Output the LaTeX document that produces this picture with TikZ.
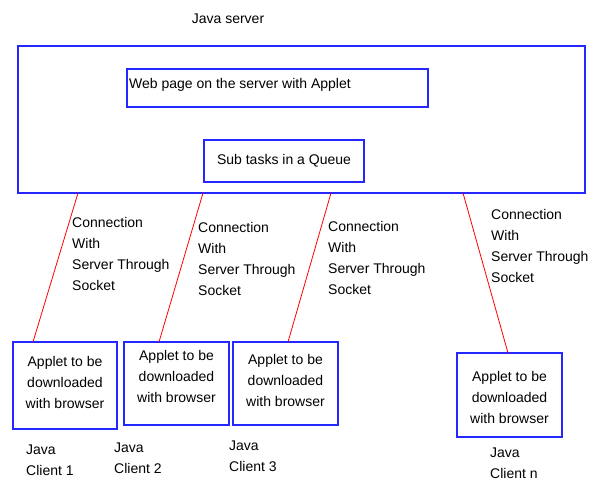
\documentclass[tikz,border=0pt]{standalone}
\usepackage{fontspec}
\setmainfont{Liberation Sans}
\colorlet{bxb}{blue!85!white}
\colorlet{lnr}{red}
\tikzset{
    box/.style={draw=bxb,line width=1.3pt,inner sep=0pt},
    sock/.style={lnr,line width=0.8pt},
    txt/.style={inner sep=0pt,align=left,font=\fontsize{14}{21}\selectfont},
    ctxt/.style={txt,align=center}
}
\begin{document}
\begin{tikzpicture}[x=1pt,y=-1pt]
            \useasboundingbox (0,0) rectangle (596,482);
            \node [txt] (jsrv) at (228,19) {Java server};
            \node [box,minimum width=567,minimum height=147] (server) at (301.5,119.5) {};
            \node [box,minimum width=301,minimum height=38] (web) at (277.5,88) {};
            \node [txt,anchor=west] (webt) at (129,85) {Web page on the server with Applet};
            \node [box,ctxt,minimum width=160,minimum height=42] (queue) at (284,161) {Sub tasks in a Queue};
            % client boxes
            \node [box,minimum width=104,minimum height=87] (c1) at (65,385.5) {};
            \node [box,minimum width=105,minimum height=83] (c2) at (176.5,383.5) {};
            \node [box,minimum width=105,minimum height=83] (c3) at (285.5,383.5) {};
            \node [box,minimum width=105,minimum height=84] (cn) at (509.5,395) {};
            \node [ctxt] (a1) at (65,382) {Applet to be\\downloaded\\with browser};
            \node [ctxt] (a2) at (176.5,376) {Applet to be\\downloaded\\with browser};
            \node [ctxt] (a3) at (285.5,380) {Applet to be\\downloaded\\with browser};
            \node [ctxt] (an) at (509.5,397) {Applet to be\\downloaded\\with browser};
            % socket lines
            \coordinate (s1) at (78,193);
            \coordinate (s2) at (203,193);
            \coordinate (s3) at (331,193);
            \coordinate (sn) at (463,193);
            \coordinate (e1) at (33,342);
            \coordinate (e2) at (159,342);
            \coordinate (e3) at (288,342);
            \coordinate (en) at (508,353);
            \draw [sock] (s1) -- (e1);
            \draw [sock] (s2) -- (e2);
            \draw [sock] (s3) -- (e3);
            \draw [sock] (sn) -- (en);
            \node [txt,anchor=west] (k1) at (72,253.5) {Connection\\With\\Server Through\\Socket};
            \node [txt,anchor=west] (k2) at (198,259) {Connection\\With\\Server Through\\Socket};
            \node [txt,anchor=west] (k3) at (328,258) {Connection\\With\\Server Through\\Socket};
            \node [txt,anchor=west] (kn) at (491,245.5) {Connection\\With\\Server Through\\Socket};
            % client names
            \node [txt,anchor=west] (j1) at (26,460) {Java\\Client 1};
            \node [txt,anchor=west] (j2) at (114,458) {Java\\Client 2};
            \node [txt,anchor=west] (j3) at (229,456.5) {Java\\Client 3};
            \node [txt,anchor=west] (jn) at (490,463) {Java\\Client n};
        \end{tikzpicture}
\end{document}
